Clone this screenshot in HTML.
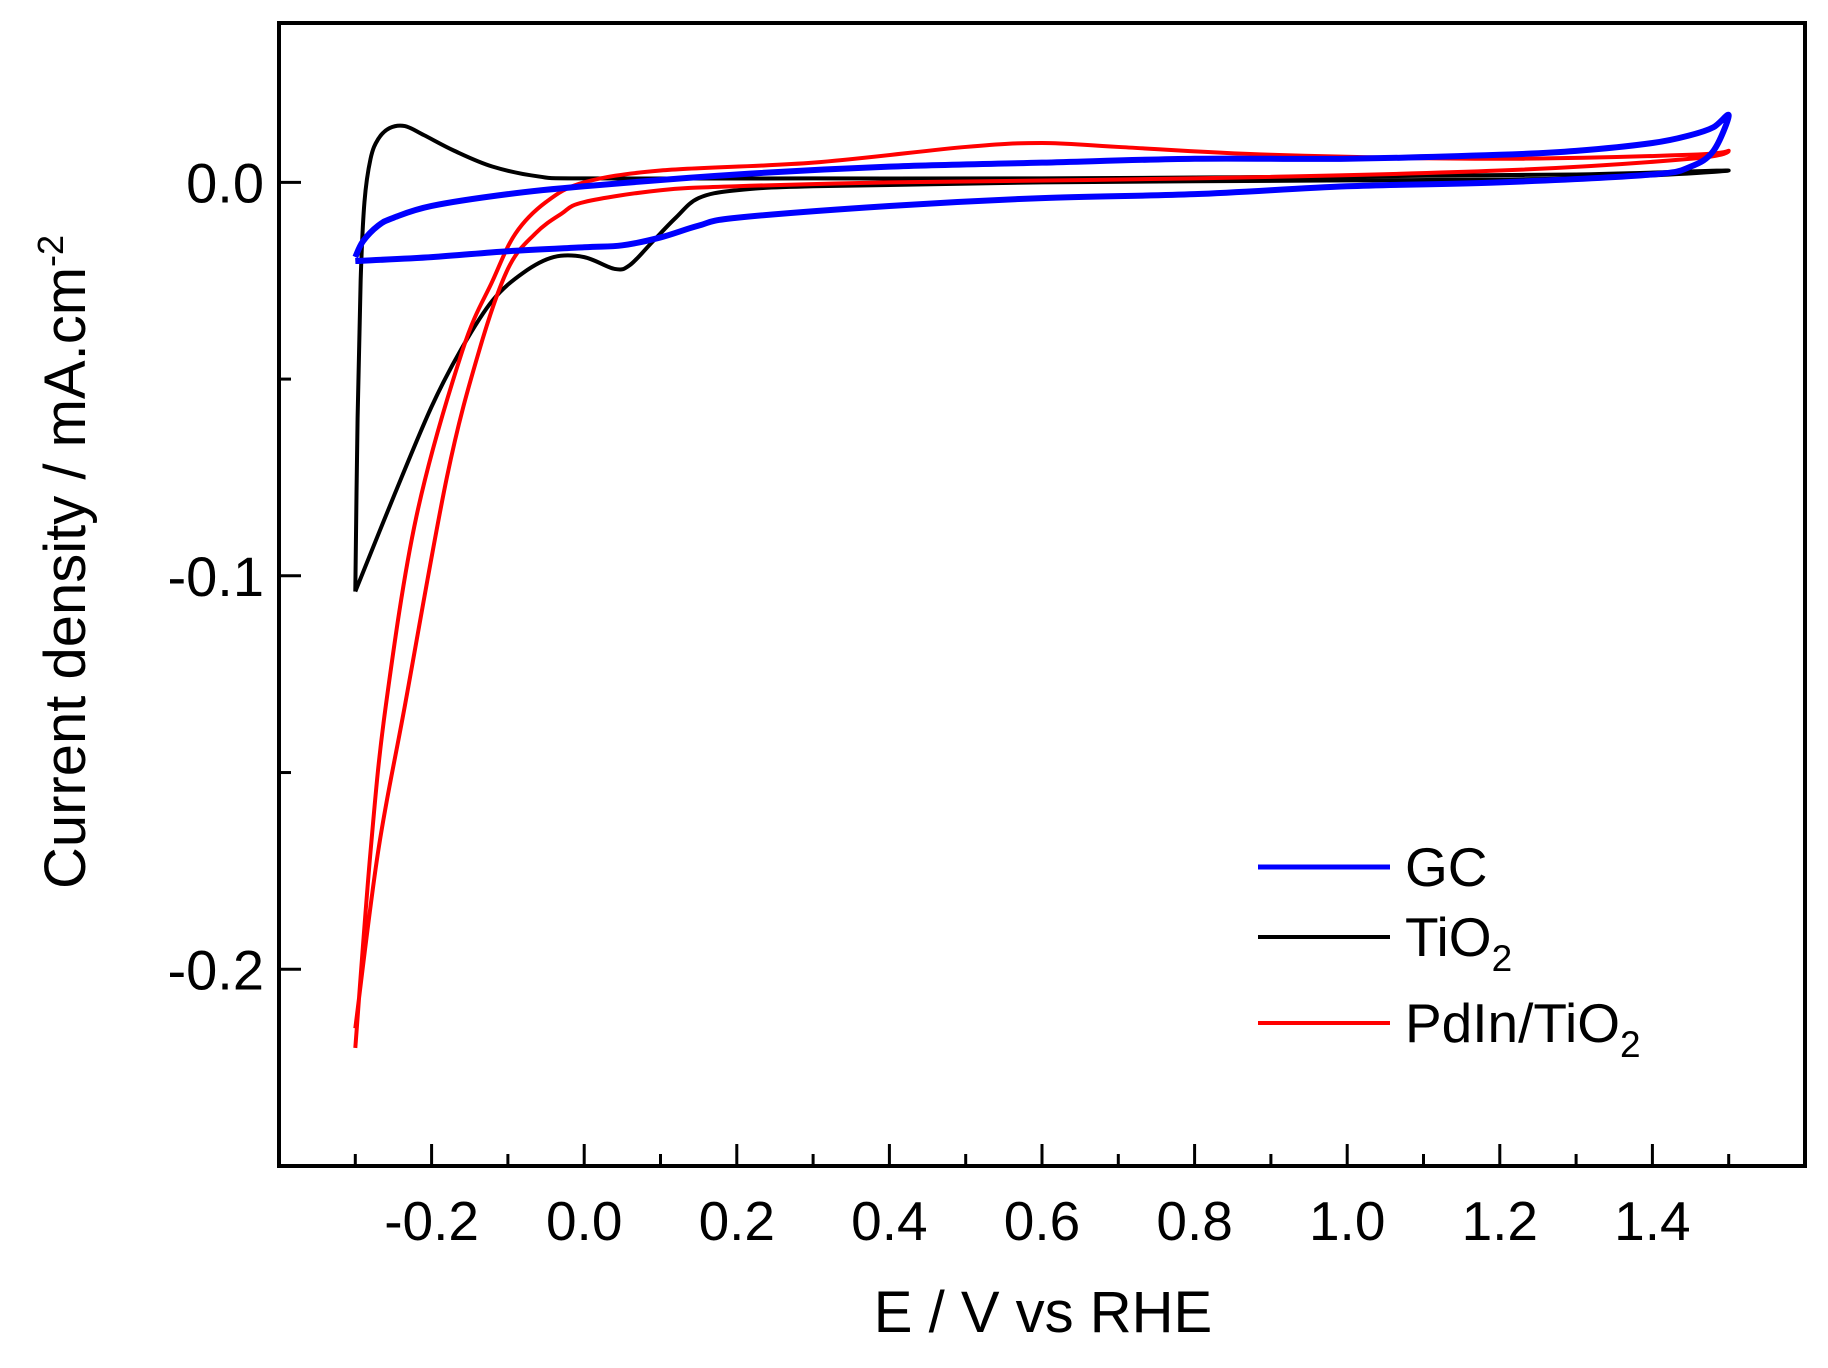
<!DOCTYPE html>
<html><head><meta charset="utf-8"><style>
html,body{margin:0;padding:0;background:#fff}
svg{display:block;font-family:"Liberation Sans",Arial,sans-serif}
</style></head><body>
<svg id="chart" width="1828" height="1368" viewBox="0 0 1828 1368" xmlns="http://www.w3.org/2000/svg">
<rect width="1828" height="1368" fill="#fff"/>
<g id="plot"></g>
<g id="axes"></g>
<text x="1043" y="1332" font-size="58" text-anchor="middle">E / V vs RHE</text>
<text transform="translate(85,562) rotate(-90)" font-size="58" text-anchor="middle">Current density / mA.cm<tspan dy="-22" font-size="36">-2</tspan></text>
<g>
<line x1="1258" y1="867" x2="1390" y2="867" stroke="#0000ff" stroke-width="5"/>
<text x="1405" y="886" font-size="55">GC</text>
<line x1="1258" y1="937" x2="1390" y2="937" stroke="#000" stroke-width="4"/>
<text x="1405" y="956" font-size="55">TiO<tspan dy="15" font-size="37">2</tspan></text>
<line x1="1258" y1="1023" x2="1390" y2="1023" stroke="#ff0000" stroke-width="4"/>
<text x="1405" y="1042" font-size="55">PdIn/TiO<tspan dy="15" font-size="37">2</tspan></text>
</g>
</svg>
<script>
const xTicks=[-0.2,0.0,0.2,0.4,0.6,0.8,1.0,1.2,1.4];
const xTickLabels=["-0.2","0.0","0.2","0.4","0.6","0.8","1.0","1.2","1.4"];
const yTicks=[0.0,-0.1,-0.2];
const yTickLabels=["0.0","-0.1","-0.2"];
const gcE=[-0.3,-0.29,-0.27,-0.25,-0.2,-0.1,0,0.2,0.4,0.6,0.8,1.0,1.2,1.3,1.4,1.45,1.48,1.5,1.48,1.45,1.4,1.2,1.0,0.8,0.6,0.4,0.2,0.15,0.1,0.05,0,-0.1,-0.2,-0.3];
const gcJ=[-0.019,-0.015,-0.011,-0.009,-0.006,-0.003,-0.001,0.002,0.004,0.005,0.006,0.006,0.007,0.008,0.01,0.012,0.014,0.017,0.008,0.004,0.002,0.0,-0.001,-0.003,-0.004,-0.006,-0.009,-0.011,-0.014,-0.016,-0.0165,-0.0175,-0.019,-0.020];
const tiE=[-0.3,-0.297,-0.293,-0.288,-0.28,-0.27,-0.255,-0.235,-0.21,-0.17,-0.12,-0.06,0,0.3,0.6,1.0,1.3,1.5,1.3,1.0,0.6,0.3,0.2,0.15,0.12,0.09,0.06,0.04,0.0,-0.04,-0.08,-0.12,-0.16,-0.2,-0.25,-0.3];
const tiJ=[-0.104,-0.06,-0.025,-0.005,0.006,0.011,0.0138,0.0143,0.012,0.008,0.004,0.0015,0.001,0.001,0.001,0.0015,0.002,0.003,0.001,0.0005,0.0,-0.001,-0.002,-0.004,-0.009,-0.015,-0.021,-0.022,-0.019,-0.019,-0.023,-0.03,-0.042,-0.057,-0.08,-0.104];
const pdE=[-0.3,-0.28,-0.26,-0.22,-0.16,-0.12,-0.09,-0.05,0,0.1,0.3,0.5,0.6,0.7,0.9,1.2,1.45,1.5,1.45,1.2,0.8,0.4,0.2,0.1,0,-0.03,-0.064,-0.1,-0.138,-0.18,-0.235,-0.27,-0.3];
const pdJ=[-0.22,-0.17,-0.133,-0.085,-0.043,-0.025,-0.013,-0.005,0.0,0.003,0.005,0.009,0.010,0.009,0.007,0.006,0.007,0.008,0.006,0.003,0.001,0.0,-0.001,-0.002,-0.005,-0.008,-0.013,-0.022,-0.043,-0.075,-0.133,-0.17,-0.215];

const L=279,R=1805,T=23,B=1166,XMIN=-0.4,XMAX=1.6,YMIN=-0.25,YMAX=0.0405;
const sx=v=>L+(v-XMIN)/(XMAX-XMIN)*(R-L);
const sy=v=>B-(v-YMIN)/(YMAX-YMIN)*(B-T);
const NS="http://www.w3.org/2000/svg";
function mk(tag,attrs,parent){const e=document.createElementNS(NS,tag);for(const k in attrs)e.setAttribute(k,attrs[k]);parent.appendChild(e);return e;}
function pathFor(xs,ys){
  const p=xs.map((x,i)=>[sx(x),sy(ys[i])]);
  let d="M"+p[0][0]+","+p[0][1];
  for(let i=0;i<p.length-1;i++){
    const p0=p[Math.max(0,i-1)],p1=p[i],p2=p[i+1],p3=p[Math.min(p.length-1,i+2)];
    const c1=[p1[0]+(p2[0]-p0[0])/6,p1[1]+(p2[1]-p0[1])/6];
    const c2=[p2[0]-(p3[0]-p1[0])/6,p2[1]-(p3[1]-p1[1])/6];
    d+=" C"+c1+" "+c2+" "+p2;
  }
  return d;
}
const plot=document.getElementById('plot');
const s1=mk('path',{d:pathFor(tiE,tiJ),fill:'none',stroke:'#000','stroke-width':4,'stroke-linejoin':'round'},plot);


const s2=mk('path',{d:pathFor(pdE,pdJ),fill:'none',stroke:'#ff0000','stroke-width':4,'stroke-linejoin':'round'},plot);


const s3=mk('path',{d:pathFor(gcE,gcJ),fill:'none',stroke:'#0000ff','stroke-width':6,'stroke-linejoin':'round'},plot);



const axes=document.getElementById('axes');
const frame=mk('rect',{x:L,y:T,width:R-L,height:B-T,fill:'none',stroke:'#000','stroke-width':4},axes);


for(let v=-0.3;v<=1.5001;v+=0.1){
  const major=Math.abs(Math.round(v*10)%2)===0;
  const t=mk('line',{x1:sx(v),x2:sx(v),y1:B,y2:B-(major?22:12),stroke:'#000','stroke-width':3},axes);
  
  
}
xTicks.forEach((v,i)=>{
  const t=mk('text',{x:sx(v),y:1240,'font-size':55,'text-anchor':'middle'},axes);
  t.textContent=xTickLabels[i];
  
  
});
[0.0,-0.05,-0.1,-0.15,-0.2].forEach((v,i)=>{
  const major=i%2===0;
  const t=mk('line',{x1:L,x2:L+(major?22:12),y1:sy(v),y2:sy(v),stroke:'#000','stroke-width':3},axes);
  
  
});
yTicks.forEach((v,i)=>{
  const t=mk('text',{x:264,y:sy(v)+20,'font-size':56,'text-anchor':'end'},axes);
  t.textContent=yTickLabels[i];
  
  
});
</script>
</body></html>
